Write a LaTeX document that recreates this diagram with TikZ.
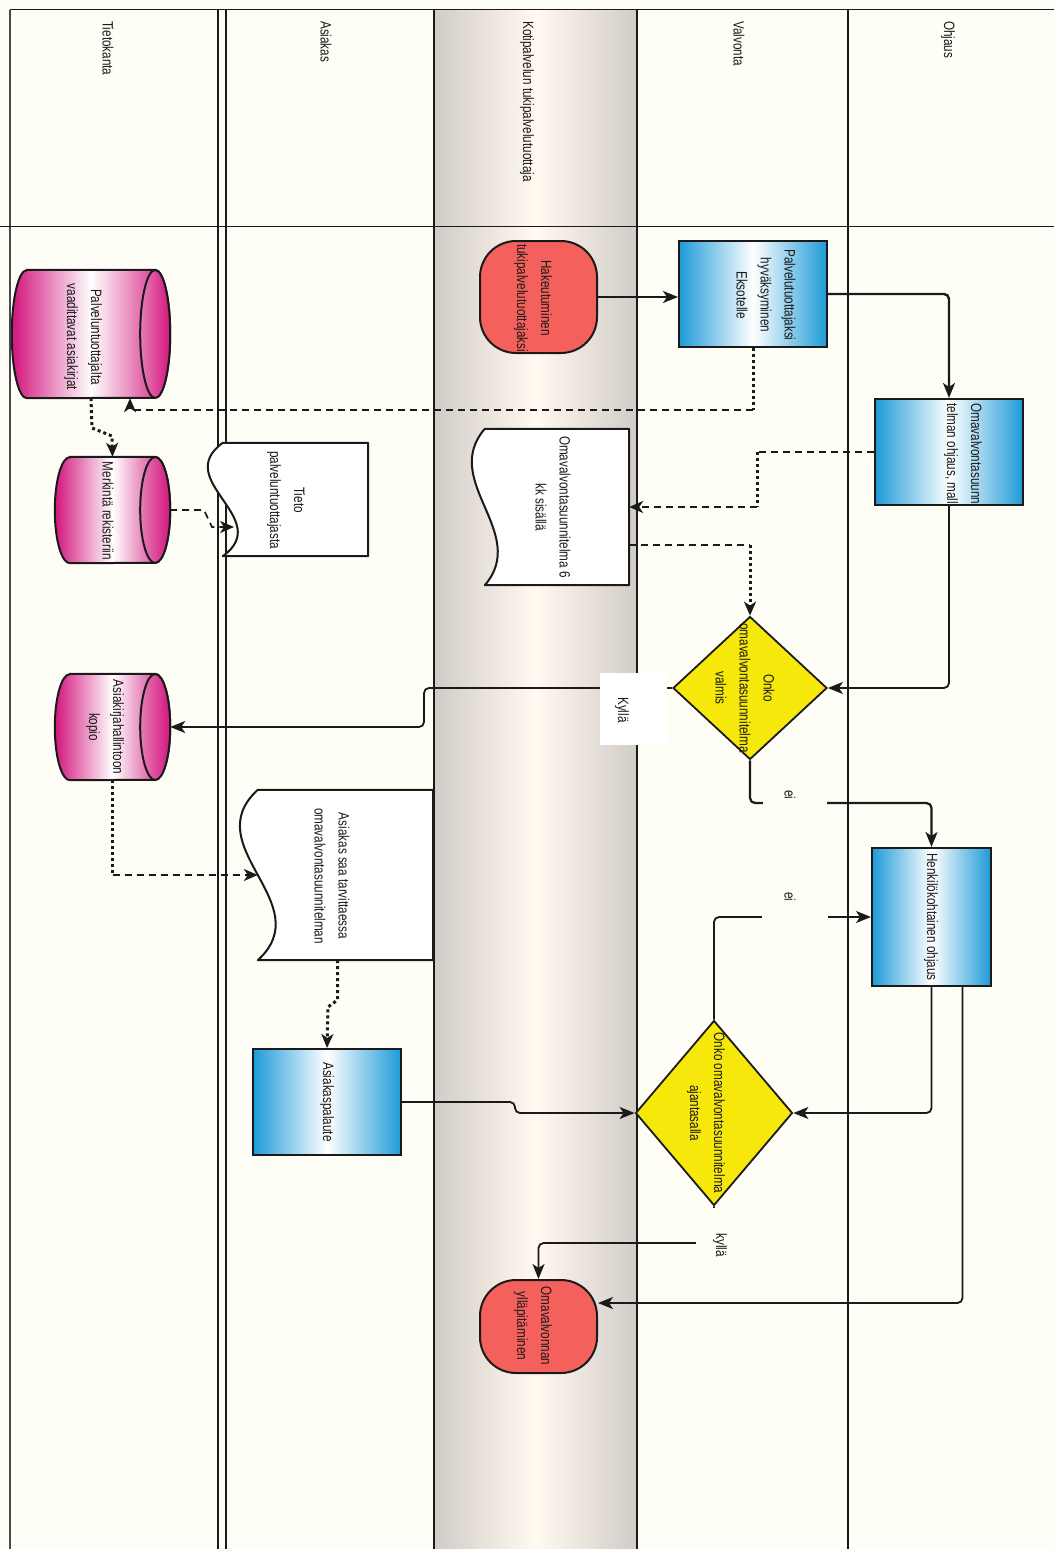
\documentclass[tikz,border=0pt]{standalone}
\usepackage{fontspec}
\setmainfont{Liberation Sans}[FakeStretch=0.78]
\usetikzlibrary{shapes.geometric,arrows.meta,calc}
\definecolor{bg}{HTML}{FEFEF6}
\definecolor{laneedge}{HTML}{D2CCC7}
\definecolor{lanemid}{HTML}{FFF9F0}
\definecolor{termred}{HTML}{F4615C}
\definecolor{procblue}{HTML}{1E9BD7}
\definecolor{dbmag}{HTML}{D3157D}
\definecolor{decyel}{HTML}{F6E80B}
\definecolor{ink}{HTML}{1A1A1A}

\newcommand\dbcyl[6]{%
  \node[inner sep=0pt, minimum width=#4pt, minimum height=#5pt] (#1) at (#2,#3) {};
  \shadedraw[left color=dbmag, right color=dbmag, middle color=white, draw=ink, line width=2pt]
    ([xshift=15pt]#1.north west) -- ([xshift=-15pt]#1.north east)
    arc[start angle=90, end angle=-90, x radius=15pt, y radius=#6pt]
    -- ([xshift=15pt]#1.south west)
    arc[start angle=270, end angle=90, x radius=15pt, y radius=#6pt] -- cycle;
  \shadedraw[left color=dbmag!55!white, right color=dbmag, draw=ink, line width=2pt]
    ([xshift=-15pt]#1.east) ellipse [x radius=15pt, y radius=#6pt];
}
\newcommand\docshape[6]{%
  \node[inner sep=0pt, minimum width=#4pt, minimum height=#5pt] (#1) at (#2,#3) {};
  \filldraw[fill=white, draw=ink, line width=2pt, line join=round]
    (#1.north west) .. controls ($(#1.north west)!0.333!(#1.south west)+(-#6,0)$)
    and ($(#1.north west)!0.667!(#1.south west)+(#6,0)$) .. (#1.south west)
    -- (#1.south east) -- (#1.north east) -- cycle;
}

\begin{document}
\begin{tikzpicture}[x=1pt,y=-1pt,
  proc/.style={rectangle, draw=ink, line width=2pt, left color=procblue, right color=procblue, middle color=white, inner sep=0pt},
  term/.style={rectangle, rounded corners=36pt, draw=ink, line width=2pt, fill=termred, inner sep=0pt},
  dec/.style={diamond, draw=ink, line width=1.8pt, fill=decyel, inner sep=0pt},
  txt/.style={rotate=-90, align=center, font=\fontsize{15}{24}\selectfont, text=ink, inner sep=0pt},
  flow/.style={draw=ink, line width=1.8pt, -{Stealth[length=15pt,width=12pt,inset=4pt]}, rounded corners=5pt},
  dflow/.style={draw=ink, line width=1.7pt, dash pattern=on 7pt off 5pt},
  vdot/.style={draw=ink, line width=3pt, dash pattern=on 3pt off 3pt},
  arr/.style={-{Stealth[length=14pt,width=12pt,inset=4pt]}},
  lblbox/.style={inner sep=0pt, draw=none}
]
\useasboundingbox (0,0) rectangle (1054,1549);
\fill[bg] (0,0) rectangle (1054,1549);
% gray lane
\shade[left color=laneedge, right color=laneedge, middle color=lanemid] (434,10) rectangle (637,1549);
% lane lines
\draw[line width=1.5pt, ink!80] (10,10) -- (10,1549);
\draw[line width=1.5pt, ink] (218,10) -- (218,1549);
\draw[line width=1.5pt, ink] (226,10) -- (226,1549);
\draw[line width=1.2pt, ink] (434,10) -- (434,1549);
\draw[line width=2.8pt, ink] (637,10) -- (637,1549);
\draw[line width=2.8pt, ink] (848,10) -- (848,1549);
\draw[line width=1pt, ink] (10,10) -- (1054,10);
\draw[line width=0.8pt, ink] (0,226) -- (1054,226);
% headers
\node[txt, anchor=west] (h1) at (108,21) {Tietokanta};
\node[txt, anchor=west] (h2) at (326,21) {Asiakas};
\node[txt, anchor=west] (h3) at (527,21) {Kotipalvelun tukipalvelutuottaja};
\node[txt, anchor=west] (h4) at (739,21) {Valvonta};
\node[txt, anchor=west] (h5) at (948,21) {Ohjaus};

% shapes
\node[term, minimum width=117pt, minimum height=112pt] (hak) at (538.5,297) {};
\node[proc, minimum width=148pt, minimum height=106pt] (pal) at (753,294) {};
\node[proc, minimum width=148pt, minimum height=106pt] (om) at (949,452) {};
\node[proc, minimum width=119pt, minimum height=138pt] (hk) at (931.5,917) {};
\node[proc, minimum width=148pt, minimum height=106pt] (ap) at (327,1102) {};
\node[term, minimum width=117pt, minimum height=93pt] (omav) at (538.5,1326.5) {};
\node[dec, minimum width=154pt, minimum height=143pt] (d1) at (750,688) {};
\node[dec, minimum width=157pt, minimum height=185pt] (d2) at (714,1113) {};
\dbcyl{cyl1}{91}{334}{158}{128}{64}
\dbcyl{cyl2}{112.5}{510}{115}{106}{53}
\dbcyl{cyl3}{112.5}{727}{115}{106}{53}
\docshape{tieto}{295.5}{499.5}{145}{113}{52}
\docshape{om6}{557}{507}{144}{156}{45}
\docshape{asdoc}{345.5}{875}{175}{170}{62}
\coordinate (tietoin) at (234,527);

% connectors
\draw[flow] (hak.east) -- (pal.west |- hak.east);
\draw[flow, line width=2.4pt] (pal.east) -| (om.north);
\coordinate (c1) at (753,410);
\draw[vdot] (pal.south) -- (c1);
\draw[dflow, arr] (c1) -| ([xshift=39pt]cyl1.south);
\draw[vdot, arr] (cyl1.south) -- (92,428) -- (112,436) -- (cyl2.north);
\draw[dflow, arr] (cyl2.east) -- (204,510) -- (212,527) -- (tietoin);
\coordinate (f1) at (757,452);
\coordinate (f2) at (757,507);
\draw[dflow] (om.west) -- (f1);
\draw[vdot] (f1) -- (f2);
\draw[dflow, arr] (f2) -- (om6.east);
\coordinate (g1) at (750,545);
\draw[dflow] ([yshift=-38pt]om6.east) -- (g1);
\draw[vdot, arr] (g1) -- (d1.north);
\draw[flow] (om.south) |- (d1.east);
\draw[flow] (d1.west) -- (424,688) -- (424,727) -- (cyl3.east);
\draw[flow, line width=2.2pt] (d1.south) -- (750,803) -| (hk.north);
\draw[flow] (hk.south) |- (d2.east);
\draw[flow] ([xshift=31pt]hk.south) |- ([yshift=23.5pt]omav.east);
\draw[flow] (d2.north) |- (hk.west);
\draw[flow] (d2.south) -- (714,1243) -| (omav.north);
\draw[flow] (ap.east) -- (515,1102) -- (515,1113) -- (d2.west);
\coordinate (p1) at (112.5,875);
\draw[vdot] (cyl3.south) -- (p1);
\draw[dflow, arr] (p1) -- (asdoc.west);
\draw[vdot, arr] ([xshift=-8pt]asdoc.south) -- (337.5,1000) -- (328,1007) -- (ap.north);

% labels
\node[lblbox, fill=white, minimum width=67pt, minimum height=72pt] (kybox) at (633.5,709) {};
\node[txt] (ky1) at (622,710) {Kyllä};
\node[lblbox, fill=bg, minimum width=64pt, minimum height=27pt] (eibox1) at (795,798.5) {};
\node[txt] (ei1) at (790,795) {ei};
\node[lblbox, fill=bg, minimum width=66pt, minimum height=40pt] (eibox2) at (795,905) {};
\node[txt] (ei2) at (790,897) {ei};
\node[lblbox, fill=bg, minimum width=50pt, minimum height=60pt] (kybox2) at (721,1238) {};
\node[txt] (ky2) at (720,1245) {kyllä};

% texts
\node[txt] (t-hak) at (533,298) {Hakeutuminen\\tukipalvelutuottajaksi};
\node[txt] (t-pal) at (766,295) {Palvelutuottajaksi\\hyväksyminen\\Eksotelle};
\node[txt] (t-om) at (963,455) {Omavalvontasuunni\\telman ohjaus, malli};
\node[txt] (t-cyl1) at (83,337) {Palveluntuottajalta\\vaadittavat asiakirjat};
\node[txt] (t-cyl2) at (108,511) {Merkintä rekisteriin};
\node[txt] (t-tieto) at (286,500) {Tieto\\palveluntuottajasta};
\node[txt] (t-om6) at (553,507) {Omavalvontasuunnitelma 6\\kk sisällä};
\node[txt] (t-d1) at (745,688) {Onko\\omavalvontasuunnitelma\\valmis};
\node[txt] (t-cyl3) at (105,727) {Asiakirjahallintoon\\kopio};
\node[txt] (t-asdoc) at (332,876) {Asiakas saa tarvittaessa\\omavalvontasuunnitelman};
\node[txt] (t-hk) at (931,917) {Henkilökohtainen ohjaus};
\node[txt] (t-d2) at (706,1113) {Onko omavalvontasuunnitelma\\ajantasalla};
\node[txt] (t-ap) at (327,1102) {Asiakaspalaute};
\node[txt] (t-omav) at (533,1326) {Omavalvonnan\\ylläpitäminen};
\end{tikzpicture}
\end{document}
